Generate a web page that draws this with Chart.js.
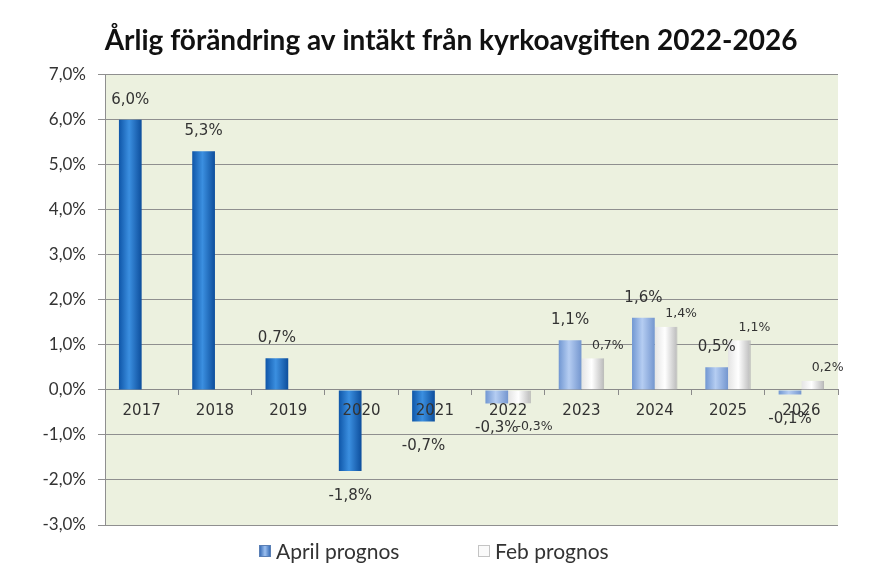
<!DOCTYPE html>
<html>
<head>
<meta charset="utf-8">
<script src="https://cdn.jsdelivr.net/npm/chart.js@4/dist/chart.umd.min.js"></script>
<style>
  body { margin: 0; background: #fff; }
  #wrap { position: relative; width: 888px; height: 580px; }
  #legend { position: absolute; left: 0; top: 538px; width: 888px; font: 21px Lato, sans-serif; color: #333; }
  .item { position: absolute; top: 0; white-space: nowrap; }
  .box { display: inline-block; width: 10px; height: 10px; margin-right: 5px; vertical-align: 2px; }
</style>
</head>
<body>
<div id="wrap">
  <canvas id="barChart" width="888" height="580"></canvas>
  <div id="legend">
    <span class="item" style="left:259px"><span class="box" style="background:linear-gradient(90deg,#3b6fb8,#9cc0f0,#3b6fb8);border:1px solid #5a7fb5"></span>April prognos</span>
    <span class="item" style="left:478px"><span class="box" style="background:#fafafa;border:1px solid #c4c4c4"></span>Feb prognos</span>
  </div>
</div>
<script>
(function () {
    "use strict";

var years = ["2017", "2018", "2019", "2020", "2021", "2022", "2023", "2024", "2025", "2026"];
var aprilPrognos = [6.0, 5.3, 0.7, -1.8, -0.7, -0.3, 1.1, 1.6, 0.5, -0.1];
var febPrognos = [null, null, null, null, null, -0.3, 0.7, 1.4, 1.1, 0.2];
var yMin = -3, yMax = 7, yStep = 1;

var dark = ["#0f56a8", "#3b8fe0", "#0d4e9c"];
var light = ["#7197d2", "#b5cdf2", "#7496cf"];
var white = ["#e4e4e4", "#ffffff", "#b9b9b9"];

function pct(v) {
    return v.toFixed(1).replace(".", ",") + "%";
}

// light green plot area
var plotBg = {
    id: "plotBg",
    beforeDraw: function (chart) {
        var a = chart.chartArea, c = chart.ctx;
        c.save();
        c.fillStyle = "#ecf1df";
        c.fillRect(a.left, a.top, a.right - a.left, a.bottom - a.top);
        c.restore();
    }
};

// horizontal shading on each bar (options are per bar since colours are scriptable)
var barShade = {
    id: "barShade",
    beforeDatasetsDraw: function (chart) {
        var c = chart.ctx;
        chart.data.datasets.forEach(function (ds, di) {
            chart.getDatasetMeta(di).data.forEach(function (bar, i) {
                var pal = di === 1 ? white : (i < 5 ? dark : light);
                var x0 = bar.x - bar.width / 2, x1 = bar.x + bar.width / 2;
                var g = c.createLinearGradient(x0, 0, x1, 0);
                g.addColorStop(0, pal[0]);
                g.addColorStop(0.45, pal[1]);
                g.addColorStop(1, pal[2]);
                bar.options = Object.assign({}, bar.options, { backgroundColor: g });
            });
        });
    }
};

// value labels
var valueLabels = {
    id: "valueLabels",
    afterDatasetsDraw: function (chart) {
        var c = chart.ctx;
        c.save();
        c.fillStyle = "#333";
        c.textAlign = "center";
        c.textBaseline = "middle";
        chart.data.datasets.forEach(function (ds, di) {
            chart.getDatasetMeta(di).data.forEach(function (bar, i) {
                var v = ds.data[i];
                if (v === null) return;
                var up = v >= 0;
                var end = bar.y;
                if (di === 0) {
                    c.font = "15px 'DejaVu Sans'";
                    c.fillText(pct(v), bar.x, up ? end - 20 : end + 25);
                } else {
                    c.font = "12.5px 'DejaVu Sans'";
                    c.fillText(pct(v), bar.x + 15, up ? end - 13 : end + 23);
                }
            });
        });
        c.restore();
    }
};

var ctx = document.getElementById("barChart");
var myChart = new Chart(ctx, {
    type: "bar",
    data: {
        labels: years,
        datasets: [
            {
                label: "April prognos",
                data: aprilPrognos,
                backgroundColor: function (c) { return c.dataIndex < 5 ? dark[1] : light[1]; },
                borderWidth: 0
            },
            {
                label: "Feb prognos",
                data: febPrognos,
                backgroundColor: function () { return white[1]; },
                borderColor: "#b5b5b5",
                borderWidth: { right: 1 },
                borderSkipped: false
            }
        ]
    },
    options: {
        responsive: false,
        animation: false,
        layout: { padding: { top: 0, right: 0, bottom: 55, left: 14 } },
        datasets: {
            bar: { categoryPercentage: 0.62, barPercentage: 1 }
        },
        plugins: {
            legend: { display: false },
            tooltip: { enabled: false },
            title: {
                display: true,
                text: "Årlig förändring av intäkt från kyrkoavgiften 2022-2026",
                color: "#111",
                font: { family: "Lato", size: 28, weight: "bold" },
                padding: { top: 24, bottom: 17 },
                align: "center"
            }
        },
        scales: {
            x: {
                position: { y: 0 },
                offset: true,
                grid: {
                    display: true,
                    offset: true,
                    drawOnChartArea: false,
                    drawTicks: true,
                    tickLength: 5,
                    color: "#8a8a8a"
                },
                border: { display: true, color: "#8a8a8a" },
                ticks: {
                    z: 1,
                    color: "#333",
                    padding: 7,
                    font: { family: "DejaVu Sans", size: 15 }
                }
            },
            y: {
                min: yMin,
                max: yMax,
                afterFit: function (scale) { scale.width = 91; },
                grid: {
                    color: "#8f8f8f",
                    tickLength: 7
                },
                border: { display: true, color: "#8f8f8f" },
                ticks: {
                    stepSize: yStep,
                    color: "#333",
                    padding: 12,
                    font: { family: "Lato", size: 17 },
                    callback: function (v) { return pct(v); }
                }
            },
            // empty margin on the right of the plot
            spacer: {
                type: "linear",
                position: "right",
                min: 0,
                max: 1,
                afterFit: function (scale) { scale.width = 50; },
                grid: { drawOnChartArea: false, drawTicks: false },
                border: { display: false },
                ticks: { display: false }
            }
        }
    },
    plugins: [plotBg, barShade, valueLabels]
});

})();
</script>
</body>
</html>
